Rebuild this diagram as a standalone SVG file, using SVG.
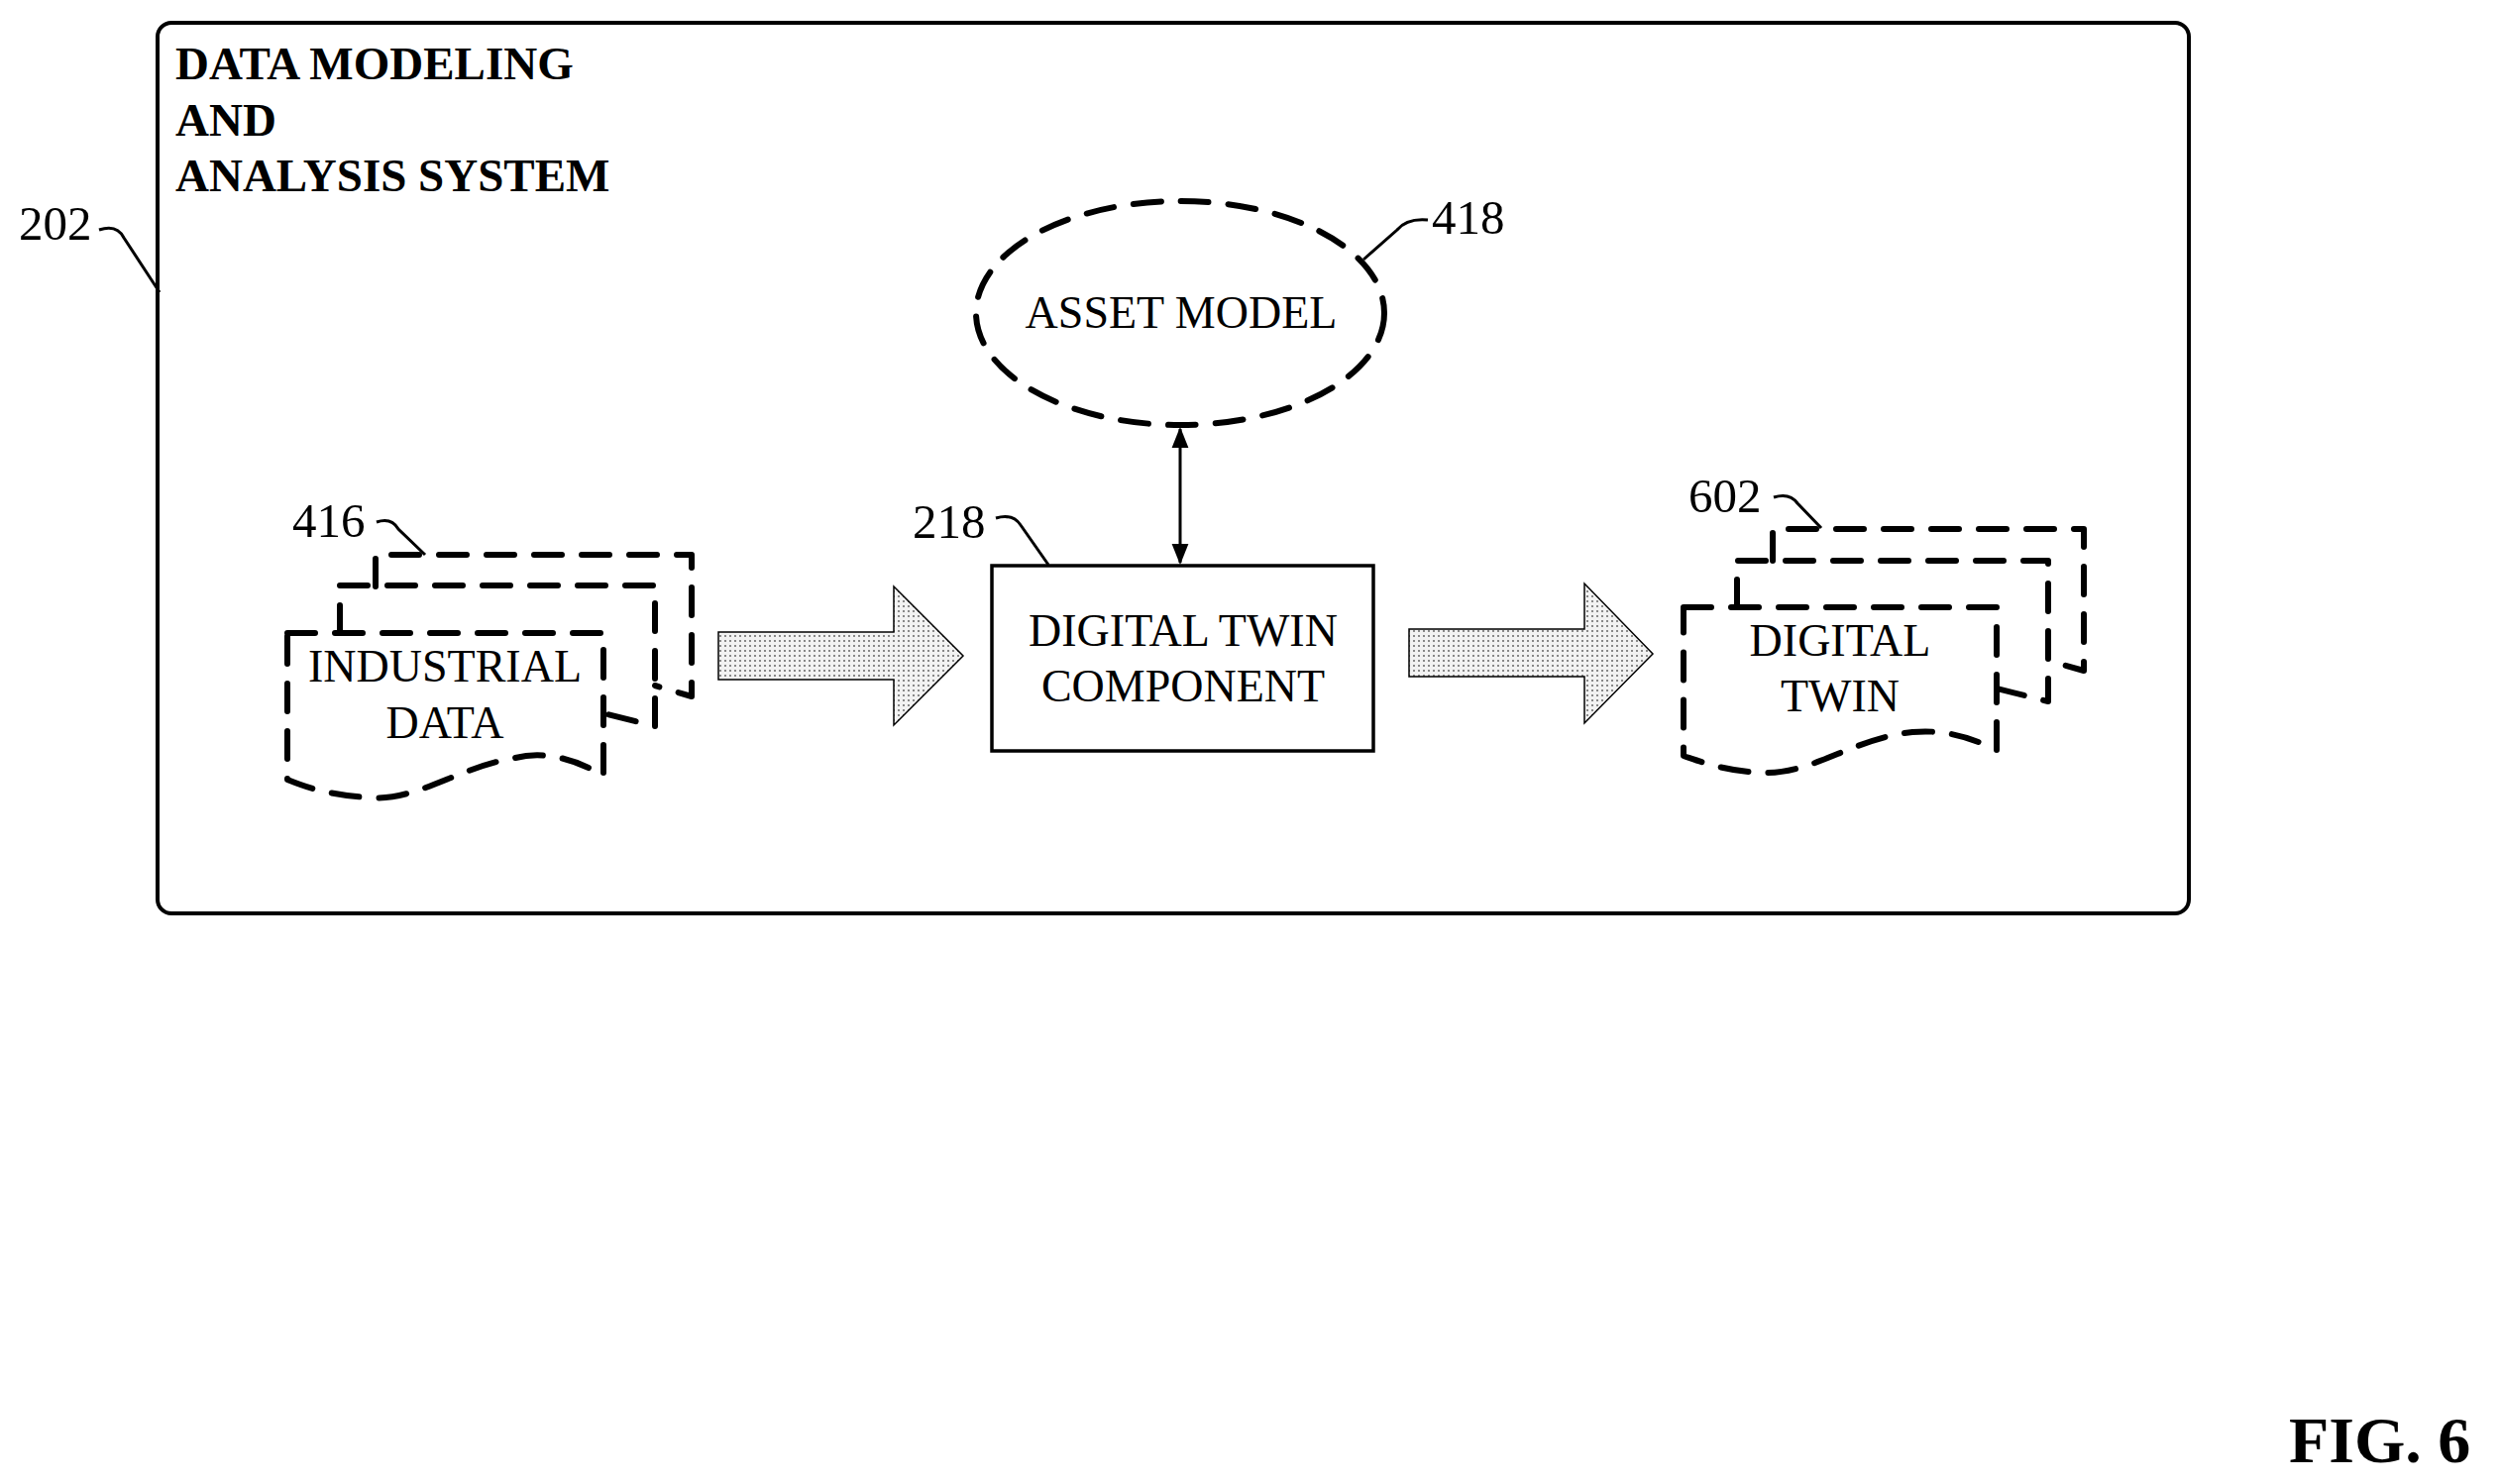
<svg xmlns="http://www.w3.org/2000/svg" width="2524" height="1498" viewBox="0 0 2524 1498">
<style>
text{font-family:"Liberation Serif","Times New Roman",serif;fill:#000}
.t{font-size:46px;text-anchor:middle}
.n{font-size:49px}
.b{font-size:47px;font-weight:bold}
.d{fill:none;stroke:#000;stroke-width:6;stroke-dasharray:28 20;stroke-linecap:round;stroke-linejoin:round}
.l{fill:none;stroke:#000;stroke-width:3}
.ar{fill:url(#dots);stroke:#000;stroke-width:1.5}
</style>
<defs>
<pattern id="dots" width="5" height="5" patternUnits="userSpaceOnUse"><rect width="5" height="5" fill="#f2f2f2"/><circle cx="2" cy="2" r="0.9" fill="#555"/></pattern>
<marker id="ah" viewBox="0 0 10 10" refX="9" refY="5" markerWidth="7" markerHeight="7" orient="auto-start-reverse"><path d="M0,1 L10,5 L0,9 Z" fill="#000"/></marker>
</defs>
<g id="system">
<rect x="159" y="23" width="2050" height="899" rx="14" fill="none" stroke="#000" stroke-width="4"/>
<text class="b" x="177" y="80">DATA MODELING</text>
<text class="b" x="177" y="137">AND</text>
<text class="b" x="177" y="193">ANALYSIS SYSTEM</text>
<text class="n" x="19" y="242">202</text>
<path class="l" d="M100,232 Q118,226 125,240 L161,295"/>
</g>
<g id="asset-model">
<ellipse class="d" cx="1191" cy="316" rx="206" ry="113"/>
<text class="t" x="1192" y="331">ASSET MODEL</text>
<text class="n" x="1445" y="236">418</text>
<path class="l" d="M1441,222 Q1420,220 1410,232 L1376,262"/>
</g>
<g id="digital-twin-component">
<rect x="1001" y="571" width="385" height="187" fill="#fff" stroke="#000" stroke-width="3.5"/>
<text class="t" x="1194" y="652">DIGITAL TWIN</text>
<text class="t" x="1194" y="708">COMPONENT</text>
<text class="n" x="921" y="543">218</text>
<path class="l" d="M1005,523 Q1022,518 1030,530 L1058,570"/>
</g>
<g id="industrial-data">
<path class="d" d="M379,592 L379,560 L698,560 L698,703 L661,692"/>
<path class="d" d="M343,639 L343,591 L661,591 L661,733 L609,720"/>
<path class="d" d="M290,639 L609,639 L609,783 C570,760 540,760 520,765 C460,775 420,810 370,805 C330,802 310,795 290,787 Z"/>
<text class="t" x="449" y="688">INDUSTRIAL</text>
<text class="t" x="449" y="745">DATA</text>
<text class="n" x="295" y="542">416</text>
<path class="l" d="M380,527 Q395,522 402,534 L429,560"/>
</g>
<g id="digital-twin">
<path class="d" d="M1789,566 L1789,534 L2103,534 L2103,677 L2067,667"/>
<path class="d" d="M1753,613 L1753,566 L2067,566 L2067,708 L2015,695"/>
<path class="d" d="M1699,613 L2015,613 L2015,757 C1980,740 1955,737 1930,739 C1870,745 1830,782 1778,780 C1740,778 1720,770 1699,763 Z"/>
<text class="t" x="1857" y="662">DIGITAL</text>
<text class="t" x="1857" y="718">TWIN</text>
<text class="n" x="1704" y="517">602</text>
<path class="l" d="M1790,502 Q1806,497 1814,508 L1838,533"/>
</g>
<g id="connectors">
<path class="ar" d="M725,638 L902,638 L902,592 L972,662 L902,732 L902,686 L725,686 Z"/>
<path class="ar" d="M1422,635 L1599,635 L1599,589 L1668,660 L1599,730 L1599,683 L1422,683 Z"/>
<line x1="1191" y1="433" x2="1191" y2="568" stroke="#000" stroke-width="3" marker-start="url(#ah)" marker-end="url(#ah)"/>
</g>
<text x="2310" y="1476" style="font-size:66px;font-weight:bold">FIG. 6</text>
</svg>
